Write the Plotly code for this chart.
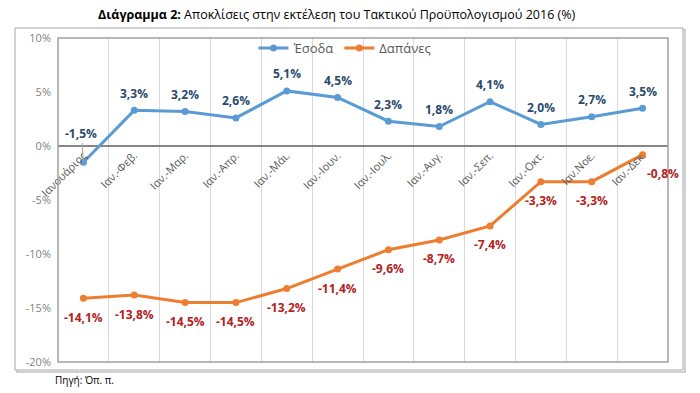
import plotly.graph_objects as go

categories = ["Ιανουάριος", "Ιαν.-Φεβ.", "Ιαν.-Μαρ.", "Ιαν.-Απρ.", "Ιαν.-Μάι.", "Ιαν.-Ιουν.",
              "Ιαν.-Ιουλ.", "Ιαν.-Αυγ.", "Ιαν.-Σεπ.", "Ιαν.-Οκτ.", "Ιαν.Νοε.", "Ιαν.-Δεκ."]
esoda = [-1.5, 3.3, 3.2, 2.6, 5.1, 4.5, 2.3, 1.8, 4.1, 2.0, 2.7, 3.5]
dapanes = [-14.1, -13.8, -14.5, -14.5, -13.2, -11.4, -9.6, -8.7, -7.4, -3.3, -3.3, -0.8]
y_ticks = [10, 5, 0, -5, -10, -15, -20]
y_ticktext = ["10%", "5%", "0%", "-5%", "-10%", "-15%", "-20%"]

BLUE = "#5B9BD5"
ORANGE = "#ED7D31"
FONT = "Open Sans"

def fmt(v):
    return f"{v:.1f}".replace(".", ",") + "%"

def px2x(p):
    return (p - 58) / 610

def py2y(p):
    return (362 - p) / 324

fig = go.Figure()
fig.add_trace(go.Scatter(x=categories, y=esoda, name="Έσοδα", mode="lines+markers",
                         line=dict(color=BLUE, width=3), marker=dict(size=7, color=BLUE)))
fig.add_trace(go.Scatter(x=categories, y=dapanes, name="Δαπάνες", mode="lines+markers",
                         line=dict(color=ORANGE, width=3), marker=dict(size=7, color=ORANGE)))

ann = []
for i, (c, v) in enumerate(zip(categories, esoda)):
    if i == 0:
        ann.append(dict(x=c, y=v, text=f"<b>{fmt(v)}</b>", showarrow=True, arrowhead=0,
                        arrowcolor="#A6A6A6", arrowwidth=1, ax=-2, ay=-29,
                        font=dict(family=FONT, size=12, color="#2A4A6E")))
    else:
        ann.append(dict(x=c, y=v, text=f"<b>{fmt(v)}</b>", showarrow=False, yshift=17,
                        font=dict(family=FONT, size=12, color="#2A4A6E")))
for i, (c, v) in enumerate(zip(categories, dapanes)):
    xs = 20 if i == len(categories) - 1 else 0
    ann.append(dict(x=c, y=v, text=f"<b>{fmt(v)}</b>", showarrow=False, yshift=-19, xshift=xs,
                    font=dict(family=FONT, size=12, color="#B22222")))

ann.append(dict(xref="paper", yref="paper", x=px2x(53), y=py2y(380),
                xanchor="left", yanchor="middle", showarrow=False, text="Πηγή: Όπ. π.",
                font=dict(family=FONT, size=10, color="#000000")))
ann.append(dict(xref="paper", yref="paper", x=px2x(337), y=py2y(15),
                xanchor="center", yanchor="middle", showarrow=False,
                text="<b>Διάγραμμα 2:</b> Αποκλίσεις στην εκτέλεση του Τακτικού Προϋπολογισμού 2016 (%)",
                font=dict(family=FONT, size=12.5, color="#000000")))

shapes = [
    dict(type="rect", xref="paper", yref="paper", x0=px2x(17), x1=px2x(685), y0=py2y(372), y1=py2y(30),
         line=dict(color="#D0D0D0", width=2), layer="below"),
    dict(type="rect", xref="paper", yref="paper", x0=px2x(15), x1=px2x(683), y0=py2y(370), y1=py2y(28),
         line=dict(color="#A6A6A6", width=1), fillcolor="white", layer="below"),
    dict(type="rect", xref="paper", yref="paper", x0=0, x1=1, y0=0, y1=1,
         line=dict(color="#A0A0A0", width=1.5), layer="above"),
]

fig.update_layout(
    width=700, height=393,
    margin=dict(l=58, r=32, t=38, b=31, autoexpand=False),
    paper_bgcolor="white", plot_bgcolor="white",
    font=dict(family=FONT, size=11, color="#595959"),
    showlegend=True,
    legend=dict(orientation="h", x=px2x(345), y=py2y(48), xanchor="center", yanchor="middle",
                font=dict(family=FONT, size=13, color="#595959"), bgcolor="rgba(0,0,0,0)"),
    annotations=ann,
    shapes=shapes,
    xaxis=dict(type="category", tickson="boundaries", showgrid=True, gridcolor="#D9D9D9",
               gridwidth=1, showline=False, ticks="", tickangle=-45, automargin=False,
               anchor="free", position=2 / 3,
               tickfont=dict(family=FONT, size=11, color="#595959"), range=[-0.5, 11.5]),
    yaxis=dict(range=[-20, 10], tickmode="array", tickvals=y_ticks, ticktext=y_ticktext,
               showgrid=False, automargin=False, ticklabelstandoff=6,
               zeroline=True, zerolinecolor="#868686", zerolinewidth=2,
               showline=False, ticks="", tickfont=dict(family=FONT, size=11, color="#7F7F7F")),
)

fig.write_html("out.html", config={"displayModeBar": False},
               post_script="document.body.style.margin='0';document.body.style.overflow='hidden';")
